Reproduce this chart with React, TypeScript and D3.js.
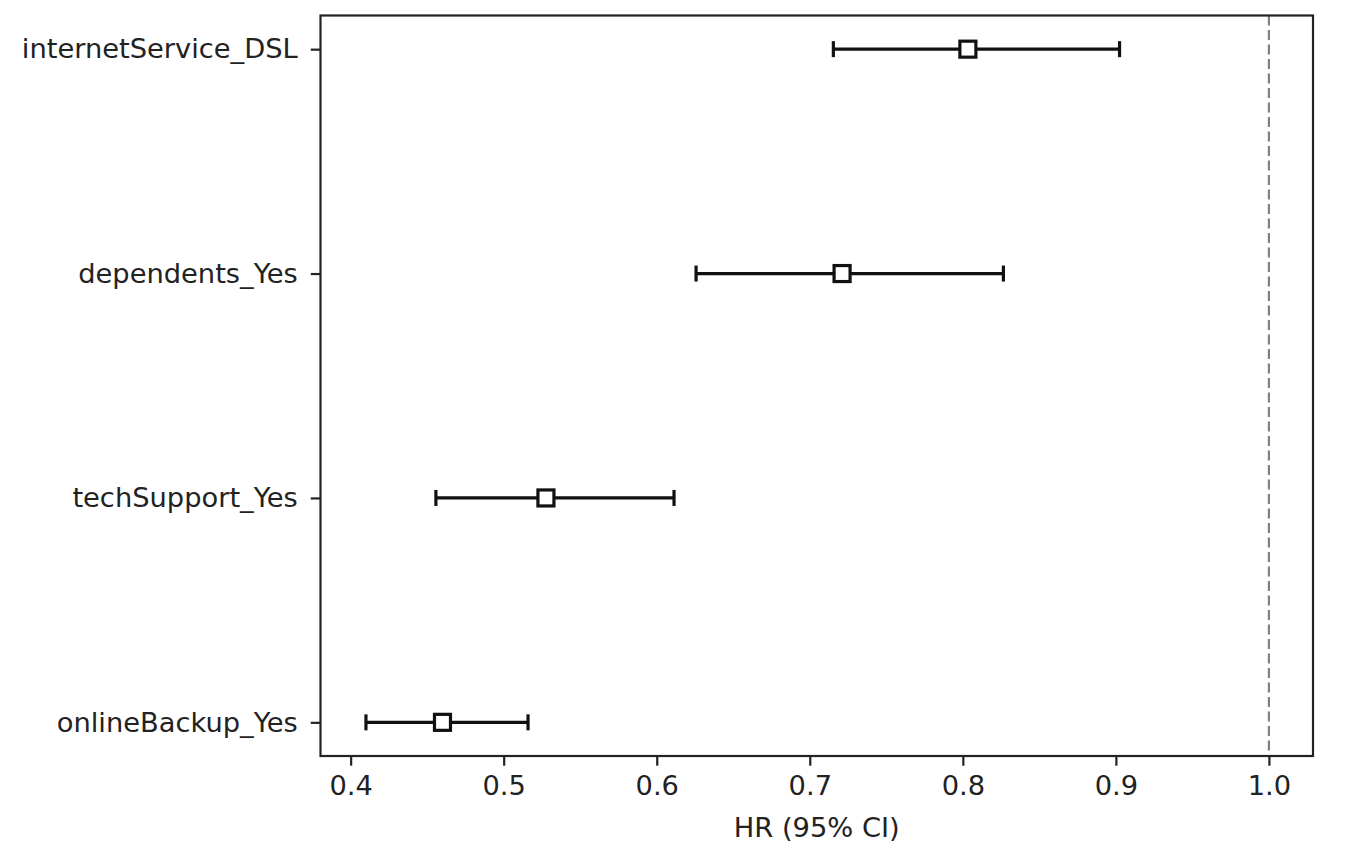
import React, { useEffect, useRef } from "react";
import * as d3 from "d3";

const covariates = ["onlineBackup_Yes", "techSupport_Yes", "dependents_Yes", "internetService_DSL"];
const hazardRatio = [0.46, 0.5276, 0.7211, 0.8033];
const ciLower = [0.41, 0.4557, 0.6257, 0.7154];
const ciUpper = [0.5159, 0.6113, 0.8265, 0.9024];
const xTicks = [0.4, 0.5, 0.6, 0.7, 0.8, 0.9, 1.0];

export default function App() {
  const ref = useRef<SVGSVGElement>(null);

  useEffect(() => {
    const W = 1350;
    const H = 852;
    const margin = { top: 15.5, right: 37, bottom: 96, left: 320.5 };
    const width = W - margin.left - margin.right;
    const height = H - margin.top - margin.bottom;
    const font = "DejaVu Sans, sans-serif";
    const fs = 27.3;

    const svg = d3.select(ref.current);
    svg.selectAll("*").remove();

    const g = svg.append("g").attr("transform", `translate(${margin.left},${margin.top})`);

    const x = d3.scaleLinear().domain([0.3803, 1.0288]).range([0, width]);
    // rows evenly spaced, matching the plot's padding at top and bottom
    const y = d3.scaleLinear().domain([-0.15, 3.15]).range([height, 0]);

    // reference line at HR = 1
    g.append("line")
      .attr("x1", x(1)).attr("x2", x(1))
      .attr("y1", 0).attr("y2", height)
      .attr("stroke", "#808080")
      .attr("stroke-width", 2.2)
      .attr("stroke-dasharray", "10,4.5");

    const rows = covariates.map((c, i) => ({ c, i, hr: hazardRatio[i], lo: ciLower[i], hi: ciUpper[i] }));

    const bars = g.append("g").selectAll("g").data(rows).join("g");
    bars.append("line")
      .attr("x1", (d) => x(d.lo)).attr("x2", (d) => x(d.hi))
      .attr("y1", (d) => y(d.i)).attr("y2", (d) => y(d.i))
      .attr("stroke", "#111").attr("stroke-width", 3.2);
    [(d: any) => x(d.lo), (d: any) => x(d.hi)].forEach((fx) => {
      bars.append("line")
        .attr("x1", fx).attr("x2", fx)
        .attr("y1", (d) => y(d.i) - 8).attr("y2", (d) => y(d.i) + 8)
        .attr("stroke", "#111").attr("stroke-width", 3.2);
    });
    bars.append("rect")
      .attr("x", (d) => x(d.hr) - 8).attr("y", (d) => y(d.i) - 8)
      .attr("width", 16).attr("height", 16)
      .attr("fill", "white").attr("stroke", "#111").attr("stroke-width", 3.2);

    // frame
    g.append("rect")
      .attr("width", width).attr("height", height)
      .attr("fill", "none").attr("stroke", "#222").attr("stroke-width", 2.2);

    const xAxis = g.append("g")
      .attr("transform", `translate(0,${height})`)
      .call(d3.axisBottom(x).tickValues(xTicks).tickFormat(d3.format(".1f")).tickSize(9.7).tickPadding(9.5));
    const yAxis = g.append("g")
      .call(d3.axisLeft(y).tickValues(d3.range(covariates.length)).tickFormat((d: any) => covariates[d]).tickSize(9.7).tickPadding(13));

    [xAxis, yAxis].forEach((a) => {
      a.select(".domain").remove();
      a.selectAll("line").attr("stroke", "#222").attr("stroke-width", 2.2);
      a.selectAll("text").attr("font-family", font).attr("font-size", fs).attr("fill", "#222");
    });

    g.append("text")
      .attr("x", width / 2).attr("y", height + 81)
      .attr("text-anchor", "middle")
      .attr("font-family", font).attr("font-size", fs).attr("fill", "#222")
      .text("HR (95% CI)");
  }, []);

  return (
    <svg ref={ref} width={1350} height={852}
      style={{ position: "absolute", left: 0, top: 0, background: "white" }} />
  );
}
